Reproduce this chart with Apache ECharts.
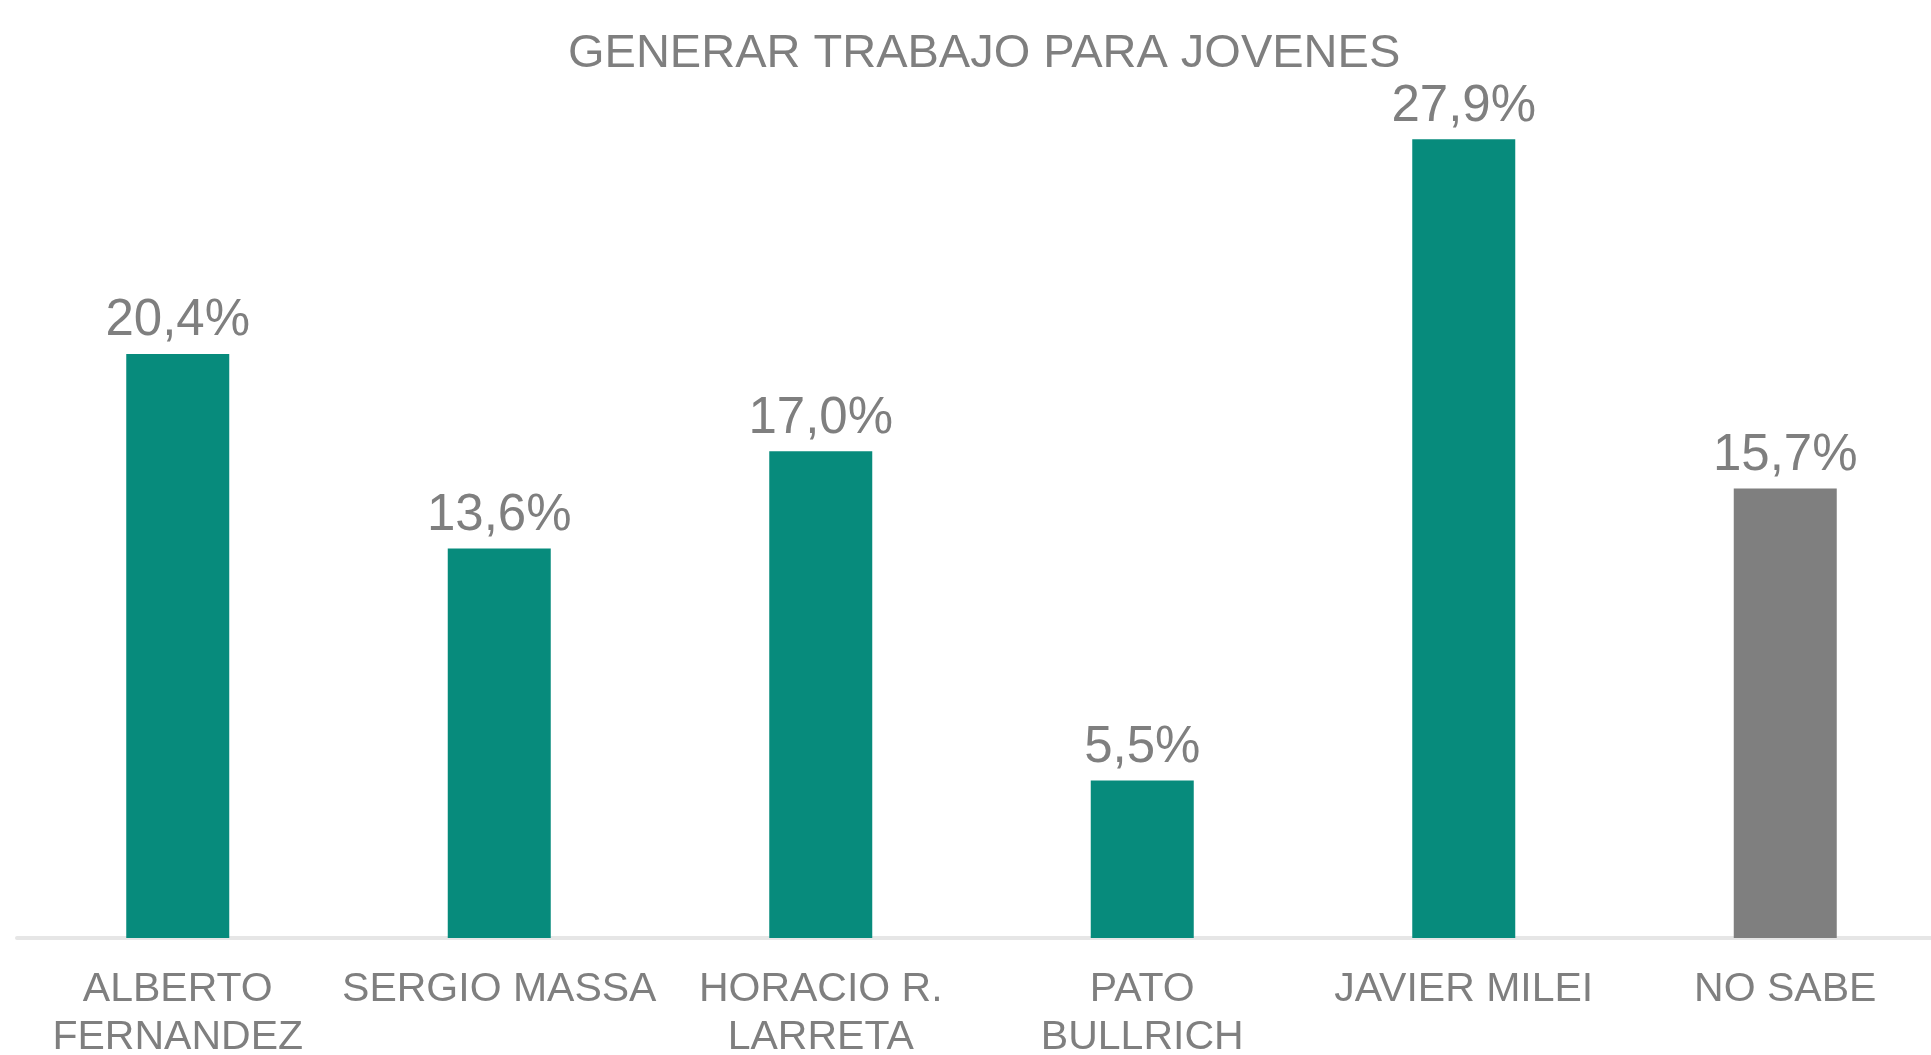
<!DOCTYPE html>
<html lang="es">
  <head>
    <meta charset="UTF-8" />
    <title>Generar trabajo para jovenes</title>
    <script src="https://cdn.jsdelivr.net/npm/echarts@6/dist/echarts.min.js"></script>
    <style>
      html, body { margin: 0; padding: 0; background: #fff; }
    </style>
  </head>
  <body>
    <div id="main" style="width: 1931px; height: 1055px"></div>
    <script type="text/javascript">
      // data
      const categories = [
        "ALBERTO\nFERNANDEZ",
        "SERGIO MASSA",
        "HORACIO R.\nLARRETA",
        "PATO\nBULLRICH",
        "JAVIER MILEI",
        "NO SABE",
      ];
      const values = [20.4, 13.6, 17.0, 5.5, 27.9, 15.7];
      const barColors = ["#078b7c", "#078b7c", "#078b7c", "#078b7c", "#078b7c", "#7f7f7f"];

      const textGray = "#7f7f7f";
      const font = "Liberation Sans, Arial, sans-serif";

      let myChart = echarts.init(document.getElementById("main"));

      let options = {
        title: {
          text: "GENERAR TRABAJO PARA JOVENES",
          left: 563,
          top: 26,
          textStyle: { color: textGray, fontSize: 47, fontWeight: "normal", fontFamily: font },
        },
        grid: { left: 17, width: 1929, top: 79, bottom: 117, outerBoundsMode: "none", containLabel: false },
        xAxis: {
          type: "category",
          data: categories,
          axisLine: { lineStyle: { color: "#e6e6e6", width: 4 } },
          axisTick: { show: false },
          axisLabel: {
            color: textGray,
            fontSize: 41,
            lineHeight: 48,
            margin: 28,
            fontFamily: font,
            interval: 0,
          },
        },
        yAxis: {
          type: "value",
          min: 0,
          max: 30,
          show: false,
          splitLine: { show: false },
        },
        series: [
          {
            type: "bar",
            barWidth: 103,
            data: values.map((v, i) => ({ value: v, itemStyle: { color: barColors[i] } })),
            label: {
              show: true,
              position: "top",
              distance: 7,
              color: textGray,
              fontSize: 51,
              fontFamily: font,
              formatter: (p) => p.value.toFixed(1).replace(".", ",") + "%",
            },
          },
        ],
      };
      myChart.setOption(options);
    </script>
  </body>
</html>
